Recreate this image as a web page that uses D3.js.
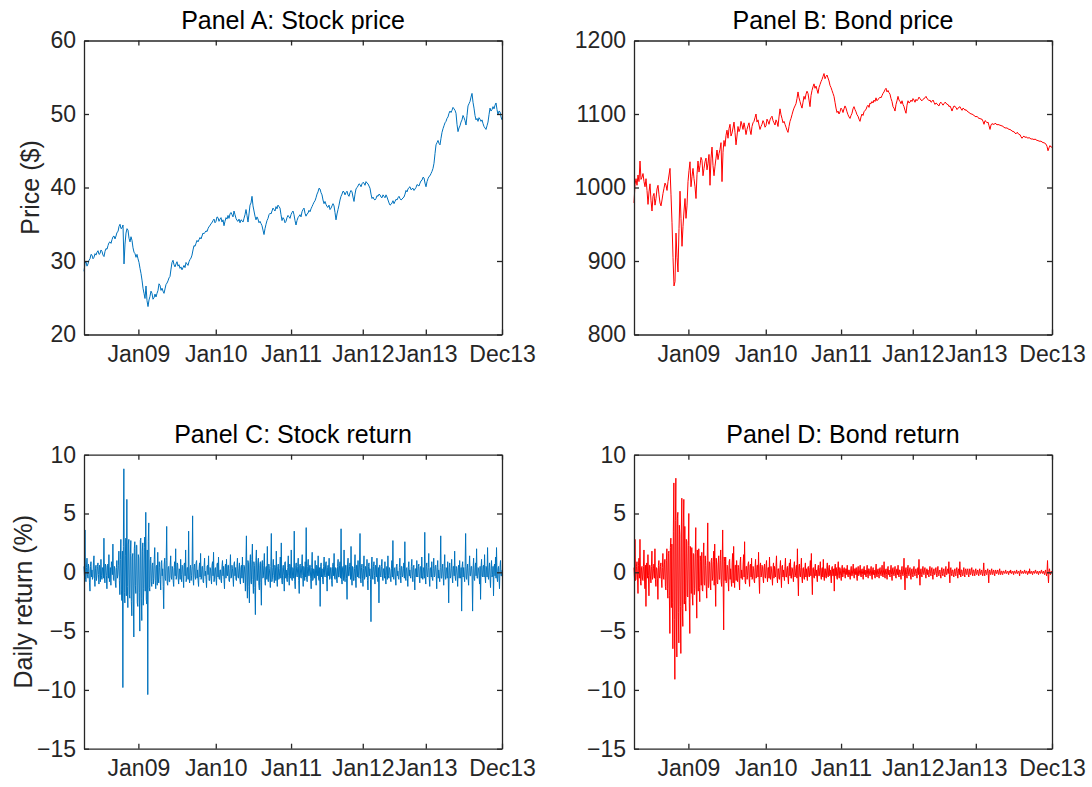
<!DOCTYPE html>
<html>
<head>
<meta charset="utf-8">
<script src="https://cdn.jsdelivr.net/npm/d3@7/dist/d3.min.js"></script>
<style>
  body { margin: 0; background: #fff; }
  svg { display: block; }
  text { font-family: "Liberation Sans", Arial, Helvetica, sans-serif; }
</style>
</head>
<body>
<svg id="fig" width="1092" height="787"></svg>
<script>
// Observation index (trading day) of each labelled date on the x axis
const nObs = 1400;
const tickObs = [183, 442, 694, 934, 1145, 1400];
const tickLabels = ["Jan09", "Jan10", "Jan11", "Jan12", "Jan13", "Dec13"];

// Stock price ($), sampled evenly over the observation window
const stockPrice = [
  28.6,29.7, 29.9,29.3, 29.6,30.1, 30.3,30.9, 30.8,30.3, 30.5,31.0, 30.8,31.2, 31.4,30.9, 31.0,31.5, 31.3,30.8,
  30.6,31.3, 31.7,31.6, 32.1,32.5, 32.6,32.4, 32.9,33.3, 33.4,33.0, 33.4,33.9, 34.0,34.7, 35.0,34.4, 34.5,34.9,
  29.6,32.3, 33.8,34.4, 34.2,33.1, 32.6,33.3, 32.8,31.8, 31.2,31.0, 30.5,30.9, 30.3,29.8, 29.0,28.3, 27.4,26.3,
  25.6,24.9, 26.6,24.6, 23.8,24.7, 25.2,25.9, 25.6,24.8, 25.0,25.5, 25.1,25.6, 26.0,26.9, 26.7,26.0, 26.3,25.9,
  25.6,26.2, 26.8,27.0, 27.3,27.7, 27.9,28.9, 29.8,30.1, 29.5,29.2, 29.6,29.9, 29.3,29.5, 29.0,29.2, 28.8,29.1,
  29.4,29.1, 29.8,29.6, 29.4,29.9, 30.2,30.4, 30.8,31.5, 32.1,32.0, 32.4,32.8, 32.6,32.9, 33.2,33.0, 33.4,33.8,
  33.7,33.9, 34.1,34.0, 34.4,34.7, 34.8,35.1, 35.2,35.5, 35.7,35.2, 35.4,36.0, 35.9,35.4, 35.7,35.9, 35.3,35.6,
  34.8,35.4, 35.9,35.7, 36.2,35.8, 36.4,36.6, 36.3,36.0, 36.8,36.3, 35.8,35.5, 35.4,35.7, 35.2,35.6, 35.5,35.3,
  35.8,36.3, 37.0,36.2, 35.3,36.4, 37.6,37.9, 38.8,37.5, 36.8,36.1, 35.6,36.0, 35.7,35.2, 35.4,35.1, 34.8,34.2,
  33.6,34.4, 35.0,35.5, 35.8,36.3, 36.5,36.4, 36.8,37.2, 37.0,36.8, 37.4,37.1, 37.6,37.4, 37.2,36.3, 35.5,35.9,
  35.7,35.2, 35.4,35.9, 36.2,36.0, 35.8,36.3, 36.6,36.8, 36.3,35.5, 34.9,35.5, 35.9,36.1, 36.3,36.0, 36.7,37.0,
  37.2,36.5, 36.1,36.4, 36.5,36.9, 36.7,37.1, 37.4,37.7, 38.0,38.2, 38.6,39.1, 39.4,39.9, 39.8,39.3, 39.0,38.3,
  37.8,38.1, 37.7,37.4, 37.3,37.6, 37.0,37.2, 37.5,37.8, 37.5,36.6, 35.6,36.4, 37.0,37.6, 38.3,38.8, 39.1,39.5,
  39.4,39.0, 39.3,39.5, 39.0,38.8, 39.3,39.6, 39.4,38.7, 38.1,39.1, 39.8,40.0, 40.2,40.5, 40.4,40.1, 40.5,40.7,
  40.6,40.3, 40.8,40.6, 40.5,40.2, 39.9,39.1, 38.5,38.7, 38.4,38.3, 38.5,38.9, 38.8,39.1, 39.0,38.7, 38.6,39.0,
  38.8,38.6, 39.0,38.7, 38.3,37.9, 37.6,37.7, 37.9,38.2, 37.8,38.1, 38.4,38.3, 38.6,38.8, 38.5,38.3, 38.4,38.6,
  38.7,39.1, 39.6,39.4, 39.8,40.0, 40.1,39.7, 39.8,39.9, 39.6,39.8, 40.0,40.4, 40.3,40.2, 40.6,40.9, 41.0,41.4,
  41.3,40.6, 40.1,40.8, 41.2,41.5, 41.6,41.9, 42.2,42.6, 43.3,44.6, 45.8,46.1, 46.4,46.0, 45.8,46.7, 47.5,48.0,
  48.4,48.8, 49.0,49.4, 49.6,50.1, 50.4,50.2, 50.5,50.9, 50.7,50.5, 50.1,48.6, 47.6,48.1, 48.4,48.9, 49.2,49.8,
  49.5,49.1, 48.5,49.8, 51.1,51.4, 51.7,52.3, 52.8,51.6, 50.8,49.8, 49.2,49.4, 49.0,49.5, 49.3,49.0, 49.2,48.7,
  48.3,48.1, 47.9,48.4, 48.9,49.9, 50.8,50.4, 50.6,51.0, 50.7,51.2, 51.5,50.6, 49.9,50.4, 50.3,49.6, 49.2
];

// Bond price ($), sampled evenly over the observation window
const bondPrice = [
  979,1004, 1012,1003, 1017,1008, 1036,1011, 1014,1019, 1008,1001, 1012,996, 977,994, 1005,982, 968,988,
  992,976, 985,998, 1003,990, 979,975, 983,992, 999,1006, 1003,996, 1008,1017, 1026,990, 952,905,
  866,872, 938,905, 885,944, 995,958, 920,947, 968,985, 958,975, 1008,1023, 1035,1001, 1015,1026,
  1012,1001, 985,1018, 1036,1021, 1030,1041, 1037,1016, 1026,1035, 1040,1024, 1033,1045, 1003,1040, 1055,1030,
  1016,1029, 1040,1051, 1038,1046, 1052,1061, 1008,1048, 1064,1056, 1071,1078, 1067,1080, 1086,1070, 1074,1081,
  1089,1075, 1058,1070, 1083,1076, 1080,1090, 1085,1079, 1088,1081, 1072,1079, 1084,1088, 1078,1072, 1083,1088,
  1090,1095, 1100,1089, 1092,1085, 1079,1083, 1086,1091, 1088,1082, 1084,1093, 1090,1086, 1092,1095, 1097,1091,
  1088,1085, 1092,1089, 1083,1096, 1107,1099, 1094,1088, 1090,1086, 1082,1078, 1075,1083, 1090,1094, 1099,1104,
  1108,1111, 1114,1121, 1130,1122, 1117,1112, 1108,1116, 1124,1120, 1127,1131, 1128,1119, 1110,1125, 1132,1137,
  1141,1135, 1138,1133, 1128,1136, 1140,1144, 1147,1151, 1155,1148, 1151,1153, 1149,1145, 1139,1136, 1132,1128,
  1124,1116, 1108,1102, 1104,1100, 1103,1108, 1106,1102, 1107,1111, 1108,1103, 1099,1096, 1094,1098, 1101,1107,
  1110,1106, 1103,1099, 1097,1093, 1090,1096, 1100,1098, 1103,1105, 1106,1110, 1112,1109, 1115,1114, 1117,1115,
  1119,1117, 1122,1118, 1120,1121, 1123,1122, 1125,1128, 1130,1133, 1135,1130, 1132,1129, 1127,1121, 1117,1110,
  1108,1104, 1113,1118, 1124,1119, 1117,1114, 1118,1113, 1110,1105, 1101,1112, 1118,1115, 1116,1119, 1117,1121,
  1119,1116, 1120,1118, 1120,1123, 1121,1119, 1118,1120, 1121,1122, 1124,1121, 1120,1118, 1119,1116, 1117,1119,
  1116,1113, 1115,1114, 1112,1111, 1115,1116, 1114,1112, 1114,1116, 1115,1113, 1113,1110, 1111,1108, 1104,1108,
  1111,1110, 1109,1106, 1108,1109, 1110,1107, 1105,1108, 1107,1105, 1106,1104, 1103,1102, 1101,1100, 1100,1099,
  1098,1097, 1096,1097, 1095,1094, 1094,1093, 1093,1090, 1086,1091, 1090,1088, 1089,1084, 1079,1085, 1087,1086,
  1086,1087, 1087,1085, 1086,1085, 1085,1084, 1084,1083, 1082,1081, 1081,1081, 1080,1079, 1079,1078, 1077,1076,
  1076,1074, 1073,1075, 1074,1072, 1072,1069, 1067,1069, 1070,1068, 1069,1068, 1067,1068, 1067,1066, 1066,1066,
  1065,1066, 1065,1064, 1064,1063, 1063,1063, 1062,1061, 1061,1060, 1059,1056, 1050,1054, 1057,1055, 1055
];

// Daily stock return (%)
const stockReturn = [
  0.5,-0.3, 3.6,-0.6, -0.8,0.4, 1.2,-0.2, -0.5,0.7, 0.3,-0.9, -1.6,0.5, 0.9,-0.4, 0.2,-0.6, -0.4,0.8,
  1.4,-0.5, -1.2,0.3, 0.6,-0.7, -0.3,0.5, 0.8,-0.2, -1.0,0.6, 0.4,-0.8, 1.1,-0.3, -0.6,0.4, 0.2,-0.5,
  2.9,-0.4, -0.9,0.7, 0.5,-0.3, -1.4,0.6, 0.7,-0.5, 1.5,-0.8, -0.3,0.4, -1.1,0.9, 0.6,-0.2, 2.4,-0.6,
  -0.7,0.5, 0.3,-0.9, -1.3,0.4, 1.0,-0.5, -0.2,0.6, 1.8,-0.7,
  -1.9,1.1, 2.8,-1.5, -2.4,1.8, -9.8,2.2, 8.8,-1.7, -2.6,1.4, 2.9,-2.0, 6.2,-1.2, -3.0,2.4, 2.8,-1.9,
  -2.2,1.6, 2.7,-2.5, -3.7,1.3, 1.6,-2.1, -5.5,2.0, 2.6,-1.1, -1.8,2.3, 2.3,-2.6, -2.9,1.5, 1.2,-1.7,
  -5.0,2.7, 2.9,-2.2, -4.1,1.8, 2.5,-2.8, -1.4,2.1, 3.0,-1.6, 5.1,-2.3, -2.7,1.9, -10.4,2.6, 4.2,-1.3,
  -1.6,1.0,
  1.3,-0.8, -1.2,0.6, 0.8,-1.0, -0.5,1.1, 2.1,-0.7, -1.4,0.5, 0.6,-1.1, 1.7,-0.4, -0.9,0.9, 0.4,-0.6,
  -1.5,0.8, 1.0,-0.3, 0.3,-1.2, -3.1,0.7, 1.2,-0.5, -0.7,1.0, 3.9,-0.9, -1.1,0.4, 0.5,-0.8, -0.8,0.6,
  1.4,-0.4, -0.6,0.5, 0.3,-0.7, -1.2,0.4, 0.9,-0.3, 2.0,-0.6, -0.4,0.8, 0.7,-0.5, -1.0,0.3, 0.2,-0.6,
  1.1,-0.2, -0.8,0.6, 0.5,-0.4, -1.3,0.7, 0.8,-0.3, 1.9,-0.8, -0.5,0.4, 0.4,-0.6, 3.5,-0.5, -0.9,0.3,
  0.6,-0.7, -0.3,0.5, 4.8,-0.6, -1.1,0.4, 0.7,-0.3, -0.6,0.8, 1.0,-0.5, 0.2,-0.7, -1.2,0.3, 0.8,-0.4,
  1.6,-0.6, -0.4,0.5, 0.5,-0.8, -0.9,0.4, 1.2,-0.3, 0.1,-0.6, -1.3,0.5, 0.6,-0.2, 1.4,-0.7, -0.7,0.4,
  0.3,-0.5, -1.0,0.6, 0.9,-0.3, 1.7,-0.8, -0.5,0.3, 0.4,-0.6, -1.1,0.7, 0.8,-0.4, 1.3,-0.5, -0.6,0.2,
  0.2,-0.7, -0.9,0.5, 1.0,-0.3, 0.5,-0.6, -1.4,0.4, 0.7,-0.5, 1.1,-0.2, -0.3,0.6, 0.6,-0.7, -0.8,0.3,
  1.5,-0.5, -0.4,0.6, 0.3,-0.4, -1.2,0.7, 0.9,-0.3, 0.4,-0.6, -0.7,0.5, 1.2,-0.4, -0.5,0.3, 0.8,-0.7,
  -1.0,0.4, 0.6,-0.5, 1.3,-0.3, -0.9,0.6, 0.5,-0.4,
  -1.6,0.8, 3.1,-0.9, -2.2,1.0, 0.8,-1.2, -2.6,0.7, 1.5,-0.8, -1.0,1.1, 2.4,-0.6, -1.8,0.9, 0.6,-1.3,
  -3.6,1.0, 1.9,-0.7, -0.7,0.8, 1.2,-1.1, -1.5,0.6, 0.9,-0.9, -2.8,0.7,
  1.0,-0.5, -0.4,0.6, 1.6,-0.7, -1.1,0.4, 0.5,-0.6, 2.2,-0.5, -0.8,0.7, 0.3,-0.4, -1.3,0.5, 3.3,-0.8,
  -0.6,0.4, 1.1,-0.3, -0.9,0.6, 0.4,-0.7, 1.8,-0.4, -1.2,0.5, 0.7,-0.6, -0.5,0.3, 1.3,-0.5, 2.5,-0.7,
  -1.0,0.4, 0.6,-0.3, -1.6,0.8, 0.9,-0.5, 0.2,-0.6, -0.8,0.4, 1.4,-0.3, -1.1,0.7, 0.5,-0.5, 1.9,-0.6,
  -0.7,0.4, 0.3,-0.5, 3.5,-0.8, -1.4,0.6, 0.8,-0.3, -0.4,0.5, 1.2,-0.7, -1.8,0.6,
  0.7,-0.4, -0.5,0.6, 1.5,-0.3, -1.2,0.5, 0.4,-0.7, 0.9,-0.4, 3.8,-0.6, -0.8,0.5, 1.1,-0.3, -0.3,0.6,
  0.6,-0.5, -1.4,0.4, 1.7,-0.7, -0.6,0.3, 0.2,-0.5, 1.0,-0.4, -1.1,0.6, 0.5,-0.3, 1.4,-0.6, -0.7,0.4,
  -2.9,0.5, 0.8,-0.4, 0.3,-0.6, -1.0,0.5, 1.3,-0.3, -0.4,0.7, 0.9,-0.5, -1.6,0.4, 0.6,-0.3, 1.2,-0.6,
  -0.5,0.4, 0.4,-0.7, -1.2,0.5, 0.8,-0.3, 1.6,-0.5, -0.6,0.4, 0.3,-0.6, -0.9,0.5, 1.1,-0.4, -0.4,0.6,
  0.9,-0.5, 3.7,-0.6, -1.0,0.4, 0.5,-0.7, 1.9,-0.4, -0.8,0.6, 0.6,-0.5, -2.3,0.7, 1.2,-0.3, -0.3,0.5,
  0.8,-0.6, 2.2,-0.4, -1.1,0.5, 0.4,-0.7, -0.7,0.3, 1.5,-0.5, -1.3,0.6, 0.6,-0.4, 1.0,-0.3, -0.5,0.7,
  3.3,-0.6, -0.9,0.4, 0.7,-0.5, -1.2,0.3, 1.4,-0.6, -0.4,0.5, 0.2,-0.4, 1.1,-0.7, -1.5,0.5, 0.8,-0.3,
  0.3,-0.6, -4.2,0.7, 1.3,-0.4, -0.6,0.5, 0.9,-0.3, -1.0,0.6, 0.5,-0.4, 1.2,-0.5, -0.8,0.4, -2.6,0.6,
  0.6,-0.3, -0.4,0.5, 1.1,-0.4, -0.7,0.3, 0.3,-0.5, 0.9,-0.3, -1.0,0.4, 0.5,-0.6, 1.4,-0.3, -0.5,0.4,
  0.2,-0.5, -0.8,0.3, 1.0,-0.4, 2.7,-0.5, -0.6,0.3, 0.4,-0.4, -1.1,0.5, 0.7,-0.3, 0.1,-0.5, -0.6,0.4,
  1.2,-0.3, -0.9,0.5, 0.5,-0.4, -0.3,0.3, 0.8,-0.5, 2.6,-0.4, -0.7,0.3, 0.4,-0.5, -1.2,0.4, 0.9,-0.3,
  0.2,-0.4, -0.5,0.5, 1.1,-0.3, -0.8,0.4, 0.6,-0.5, -1.5,0.3, 0.3,-0.4, 1.0,-0.3, -0.4,0.5, 0.7,-0.4,
  -0.9,0.4, 0.5,-0.5, 1.3,-0.3, -0.6,0.4, 0.3,-0.5, 3.4,-0.4, -1.0,0.5, 0.8,-0.3, -0.4,0.4, 1.6,-0.5,
  -1.2,0.3, 0.4,-0.4, 0.9,-0.5, -0.7,0.3, 1.2,-0.4, -0.3,0.5, 0.6,-0.3, -1.4,0.4, 1.0,-0.5, 0.2,-0.3,
  -0.8,0.4, 3.1,-0.5, -0.5,0.3, 0.7,-0.4, -1.1,0.5, 1.5,-0.3, -0.6,0.4, 0.3,-0.5, 0.9,-0.3, -2.6,0.4,
  0.8,-0.5, -0.4,0.3, 1.1,-0.4, -0.9,0.5, 0.5,-0.3, 1.8,-0.4, -0.7,0.5, 0.3,-0.3, -1.2,0.4, 0.6,-0.5,
  1.0,-0.3, -0.5,0.4, -3.3,0.5, 0.9,-0.4, 0.4,-0.3, -0.8,0.5, 3.3,-0.4, -0.6,0.3, 0.7,-0.5, -1.1,0.4,
  1.4,-0.3, -0.3,0.5, 0.5,-0.4, -3.3,0.3, 1.2,-0.5, -0.7,0.4, 0.8,-0.3, 2.0,-0.5, -0.5,0.4, 0.3,-0.3,
  -1.0,0.5, -2.3,0.4, 1.1,-0.3, -0.4,0.5, 0.6,-0.4, 1.5,-0.3, -0.9,0.5, 0.4,-0.4, 2.1,-0.3, -0.6,0.4,
  0.8,-0.5, -1.3,0.3, 1.0,-0.4, -0.2,0.5, -2.0,0.4, 0.7,-0.3, 1.3,-0.5, 2.1,-0.4, -0.8,0.3, 0.5,-0.5,
  -1.4,0.4, 1.0,-0.3, -0.3,0.2
];

// Daily bond return (%)
const bondReturn = [
  0.4,-0.5, 2.8,-0.7, -0.6,0.5, 0.9,-0.4, -1.8,0.6, 1.2,-0.5, 2.8,-0.8, -1.1,0.4, 0.5,-0.6, -0.7,0.5,
  1.9,-0.4, -1.4,0.6, -2.9,0.7, 0.8,-0.5, 1.5,-0.3, -2.0,0.6, 0.6,-0.4, -0.9,0.5, 1.8,-0.6, -0.4,0.3,
  0.7,-0.5, 2.0,-0.6, -1.2,0.4, 0.3,-0.5, -2.3,0.6, 1.0,-0.4, -0.5,0.5, 0.8,-0.6, -1.3,0.4, 1.6,-0.5,
  -0.6,0.7,
  1.1,-1.2, -1.5,1.0, 2.0,-1.4, -2.2,1.6, 1.8,-2.0, -5.2,2.1, 2.9,-3.0, 2.4,-2.6, -6.5,3.5, 7.6,-4.0,
  -9.1,4.4, 8.0,-3.8, -7.2,4.6, 5.1,-3.4, -6.0,4.0, 3.2,-2.9, -6.9,3.6, 6.3,-3.1, -4.6,4.2, 6.2,-2.7,
  3.9,-2.4, -3.3,2.8, 2.6,-2.0, -2.1,2.3, 5.0,-2.6, -5.2,2.2, 1.9,-1.8, 2.1,-2.0, -2.8,1.6, 1.5,-1.9,
  -1.4,1.7, 3.8,-1.5, -3.9,1.9, 1.2,-1.6, 2.0,-1.3, -2.5,1.4, 0.9,-1.1, 1.7,-1.5, -1.6,1.2, 2.5,-1.0,
  -1.1,1.4, 0.6,-1.2, -2.2,1.0, 4.2,-1.3, -1.3,0.9,
  0.8,-0.9, -1.5,1.0, 1.2,-0.7, -0.4,0.9, 1.8,-1.1, 2.4,-0.8, -2.9,1.2, 0.7,-0.9, -1.0,0.8, 1.4,-0.6,
  -0.6,1.0, 1.9,-0.8, -1.2,0.7, 3.6,-1.0, -4.9,1.3, 0.9,-0.7, 1.3,-0.9, -0.8,0.6, 0.5,-0.8, -1.6,0.9,
  1.1,-0.6, 0.3,-0.7, -1.2,0.8, 1.6,-0.9, 2.2,-0.7,
  -1.3,0.6, 0.6,-0.7, 1.0,-0.5, -0.8,0.6, 0.4,-0.7, -1.5,0.8, 1.3,-0.5, 0.2,-0.6, -0.6,0.7, 1.5,-0.4,
  2.6,-0.8, -1.0,0.5, 0.5,-0.6, -0.3,0.7, 0.9,-0.5, -1.2,0.6, 0.7,-0.4, 1.2,-0.6, -0.5,0.5, 0.3,-0.7,
  -0.9,0.4, 1.1,-0.5, -0.4,0.6, 0.6,-0.4, 1.7,-0.6, -1.8,0.5, 0.8,-0.4, -0.3,0.6, 0.5,-0.5, -0.9,0.4,
  0.7,-0.4, -0.5,0.5, 1.0,-0.3, -0.8,0.4, 0.4,-0.5, 1.3,-0.4, -0.6,0.5, 0.2,-0.4, -1.1,0.3, 0.8,-0.5,
  0.5,-0.3, -0.4,0.5, 1.4,-0.4, -0.9,0.3, 0.3,-0.5, -0.6,0.4, 1.0,-0.3, -1.3,0.5, 0.6,-0.4, 0.2,-0.3,
  -0.7,0.5, 1.2,-0.4, -0.4,0.3, 0.5,-0.5, -1.0,0.4, 0.8,-0.3, 1.1,-0.5, -0.5,0.4, 0.3,-0.3, -0.8,0.5,
  0.9,-0.4, -0.3,0.3, 0.6,-0.5, 2.0,-0.4, -2.0,0.5, 0.7,-0.3, -0.4,0.4, 1.2,-0.5, -0.9,0.3, 0.4,-0.4,
  -0.6,0.3, 0.8,-0.4, 0.3,-0.3, -0.7,0.4, 0.5,-0.3, -0.4,0.4, 1.0,-0.3, 1.6,-0.4, -1.9,0.3, 0.4,-0.4,
  -0.5,0.3, 0.7,-0.3, 0.2,-0.4, -0.8,0.3, 0.6,-0.3, -0.3,0.4, 0.9,-0.3, -0.6,0.3, 0.4,-0.4, 1.1,-0.3,
  -0.7,0.3, 0.3,-0.4, -0.5,0.3, 0.8,-0.3, -0.4,0.4, 0.6,-0.3, 0.2,-0.3, -0.9,0.4, 0.5,-0.3, -0.3,0.3,
  -1.6,0.4, 0.7,-0.3, 0.4,-0.4, -0.6,0.3, 0.9,-0.3, -0.5,0.4, 0.3,-0.3, -0.7,0.3, 0.6,-0.4, -0.2,0.3,
  0.4,-0.2, -0.5,0.3, 0.3,-0.2, 0.6,-0.3, -0.4,0.2, 0.2,-0.3, -0.6,0.2, 0.5,-0.3, -0.3,0.2, 0.7,-0.2,
  -0.5,0.3, 0.3,-0.2, 0.4,-0.3, -0.7,0.2, 0.5,-0.3, -0.2,0.2, 0.6,-0.3, -0.4,0.2, 0.3,-0.2, -0.6,0.3,
  0.5,-0.2, 0.2,-0.3, -0.4,0.2, 0.6,-0.2, -0.5,0.3, 0.3,-0.2, -0.3,0.2, 0.5,-0.3, -0.6,0.2, 0.4,-0.2,
  0.2,-0.3, -0.5,0.2, 0.7,-0.3, -0.4,0.2, 0.3,-0.2, -0.5,0.3, 0.4,-0.2, -0.3,0.2, 0.6,-0.3, -0.4,0.2,
  0.9,-0.3, -0.5,0.2, 0.3,-0.2, -0.6,0.3, 0.5,-0.2, 0.2,-0.3, -0.4,0.2, 0.6,-0.2, -0.7,0.3, 0.4,-0.2,
  -0.3,0.2, 0.5,-0.3, -0.5,0.2, 0.3,-0.2, 0.6,-0.3, -0.4,0.2, 0.2,-0.2, -0.6,0.3, 0.5,-0.2, -0.3,0.2,
  1.2,-0.3, -1.5,0.2, 0.4,-0.2, -0.5,0.3, 0.6,-0.2, -0.3,0.2, 0.4,-0.3, -0.6,0.2, 0.3,-0.2, -0.4,0.2,
  0.5,-0.2, -0.3,0.2, 0.3,-0.1, -0.5,0.2, 0.4,-0.2, 1.1,-0.2, -1.1,0.1, 0.3,-0.2, -0.4,0.2, 0.5,-0.1,
  -0.2,0.2, 0.4,-0.2, -0.5,0.1, 0.3,-0.2, 0.2,-0.2, -0.4,0.2, 0.5,-0.1, -0.3,0.2, 0.4,-0.2, -0.6,0.1,
  0.3,-0.2, -0.2,0.2, 0.4,-0.1, -0.4,0.2, 0.5,-0.2, -0.3,0.1, 0.2,-0.2, -0.5,0.2, 0.4,-0.1, -0.3,0.2,
  0.3,-0.2, -0.4,0.1, 0.5,-0.2, -0.2,0.2, 0.3,-0.1, 0.9,-0.2, -0.9,0.2, 0.4,-0.1, -0.3,0.2, 0.2,-0.2,
  -0.4,0.1, 0.3,-0.2, -0.3,0.2, 0.4,-0.1, -0.5,0.2, 0.3,-0.2, 0.9,-0.1, -0.4,0.2, 0.2,-0.2, -0.3,0.1,
  0.4,-0.2, -0.4,0.2, 0.3,-0.1, -0.2,0.2, 0.3,-0.2, -0.4,0.1, 0.3,-0.2, -0.2,0.2, 0.4,-0.1, -0.3,0.2,
  0.2,-0.1, -0.3,0.1, 0.3,-0.1, -0.2,0.1, 0.2,-0.1, -0.3,0.1, 0.3,-0.1, -0.2,0.1, 0.2,-0.1, -0.3,0.1,
  0.8,-0.1, -0.3,0.1, 0.2,-0.1, -0.2,0.1, 0.3,-0.1, -0.9,0.1, 0.2,-0.1, -0.2,0.1, 0.3,-0.1, -0.2,0.1,
  0.2,-0.1, -0.3,0.1, 0.2,-0.1, -0.1,0.1, 0.2,-0.1, -0.2,0.1, 0.3,-0.1, -0.2,0.1, 0.1,-0.1, -0.2,0.1,
  0.1,-0.05, -0.1,0.05, 0.2,-0.1, -0.1,0.05, 0.1,-0.05, -0.2,0.1, 0.1,-0.05, 0.2,-0.1, -0.1,0.05, 0.1,-0.05,
  -0.2,0.1, 0.1,-0.05, -0.1,0.05, 0.2,-0.1, -0.1,0.05, 0.1,-0.05, -0.3,0.1, 0.2,-0.05, -0.1,0.05, 0.1,-0.1,
  -0.1,0.05, 0.2,-0.05, -0.1,0.1, 0.1,-0.05, -0.2,0.05, 0.1,-0.1, 0.3,-0.05, -0.1,0.05, 0.1,-0.1, -0.2,0.05,
  0.1,-0.05, -0.1,0.1, 0.2,-0.05, -0.1,0.05, 0.1,-0.1, -0.2,0.05, 0.1,-0.05, -0.1,0.1, 0.2,-0.05, -0.1,0.05,
  0.1,-0.1, -0.2,0.05, 0.2,-0.1, -0.3,0.05, 1.0,-0.2, -0.9,0.1, 0.3,-0.1, -0.2,0.05, 0.1,-0.05
];

const priceTicks = { stock: [20, 30, 40, 50, 60], bond: [800, 900, 1000, 1100, 1200] };
const returnTicks = [-15, -10, -5, 0, 5, 10];

const axisColor = "#262626";
const plotW = 418, plotH = 294;

const panels = [
  { title: "Panel A: Stock price", values: stockPrice, color: "#0072BD",
    domain: [20, 60], ticks: priceTicks.stock, ylabel: "Price ($)", labelGap: 45, x0: 84, y0: 40.5 },
  { title: "Panel B: Bond price", values: bondPrice, color: "#FF0000",
    domain: [800, 1200], ticks: priceTicks.bond, ylabel: null, x0: 634, y0: 40.5 },
  { title: "Panel C: Stock return", values: stockReturn, color: "#0072BD",
    domain: [-15, 10], ticks: returnTicks, ylabel: "Daily return (%)", labelGap: 52, x0: 84, y0: 454.7 },
  { title: "Panel D: Bond return", values: bondReturn, color: "#FF0000",
    domain: [-15, 10], ticks: returnTicks, ylabel: null, x0: 634, y0: 454.7 }
];

const svg = d3.select("#fig");

panels.forEach(p => {
  const x = d3.scaleLinear().domain([1, nObs]).range([p.x0, p.x0 + plotW]);
  const y = d3.scaleLinear().domain(p.domain).range([p.y0 + plotH, p.y0]);
  const step = (nObs - 1) / (p.values.length - 1);

  const g = svg.append("g");

  // series line
  g.append("path")
    .datum(p.values)
    .attr("fill", "none")
    .attr("stroke", p.color)
    .attr("stroke-width", 1)
    .attr("stroke-linejoin", "round")
    .attr("d", d3.line().x((d, i) => x(1 + i * step)).y(d => y(d)));

  // axes: ticks point inward on all four sides
  const tl = 5;
  const bottom = g.append("g").attr("transform", `translate(0,${p.y0 + plotH})`)
    .call(d3.axisBottom(x).tickValues(tickObs).tickFormat((d, i) => tickLabels[i])
      .tickSizeInner(-tl).tickSizeOuter(0).tickPadding(11));
  const top = g.append("g").attr("transform", `translate(0,${p.y0})`)
    .call(d3.axisTop(x).tickValues(tickObs).tickFormat("").tickSizeInner(-tl).tickSizeOuter(0));
  const left = g.append("g").attr("transform", `translate(${p.x0},0)`)
    .call(d3.axisLeft(y).tickValues(p.ticks).tickFormat(d3.format("d"))
      .tickSizeInner(-tl).tickSizeOuter(0).tickPadding(8));
  const right = g.append("g").attr("transform", `translate(${p.x0 + plotW},0)`)
    .call(d3.axisRight(y).tickValues(p.ticks).tickFormat("").tickSizeInner(-tl).tickSizeOuter(0));

  [bottom, top, left, right].forEach(a => {
    a.selectAll("path.domain").attr("stroke", axisColor).attr("stroke-width", 1.3);
    a.selectAll(".tick line").attr("stroke", axisColor).attr("stroke-width", 1.3);
    a.selectAll(".tick text").attr("fill", axisColor).style("font-size", "23px")
      .style("font-family", '"Liberation Sans", Arial, sans-serif');
  });

  // title
  g.append("text")
    .attr("x", p.x0 + plotW / 2).attr("y", p.y0 - 12)
    .attr("text-anchor", "middle").attr("fill", "#000")
    .style("font-size", "25px").text(p.title);

  // y label
  if (p.ylabel) {
    g.append("text")
      .attr("transform", `translate(${p.x0 - p.labelGap},${p.y0 + plotH / 2}) rotate(-90)`)
      .attr("text-anchor", "middle").attr("fill", axisColor)
      .style("font-size", "25px").text(p.ylabel);
  }
});
</script>
</body>
</html>
